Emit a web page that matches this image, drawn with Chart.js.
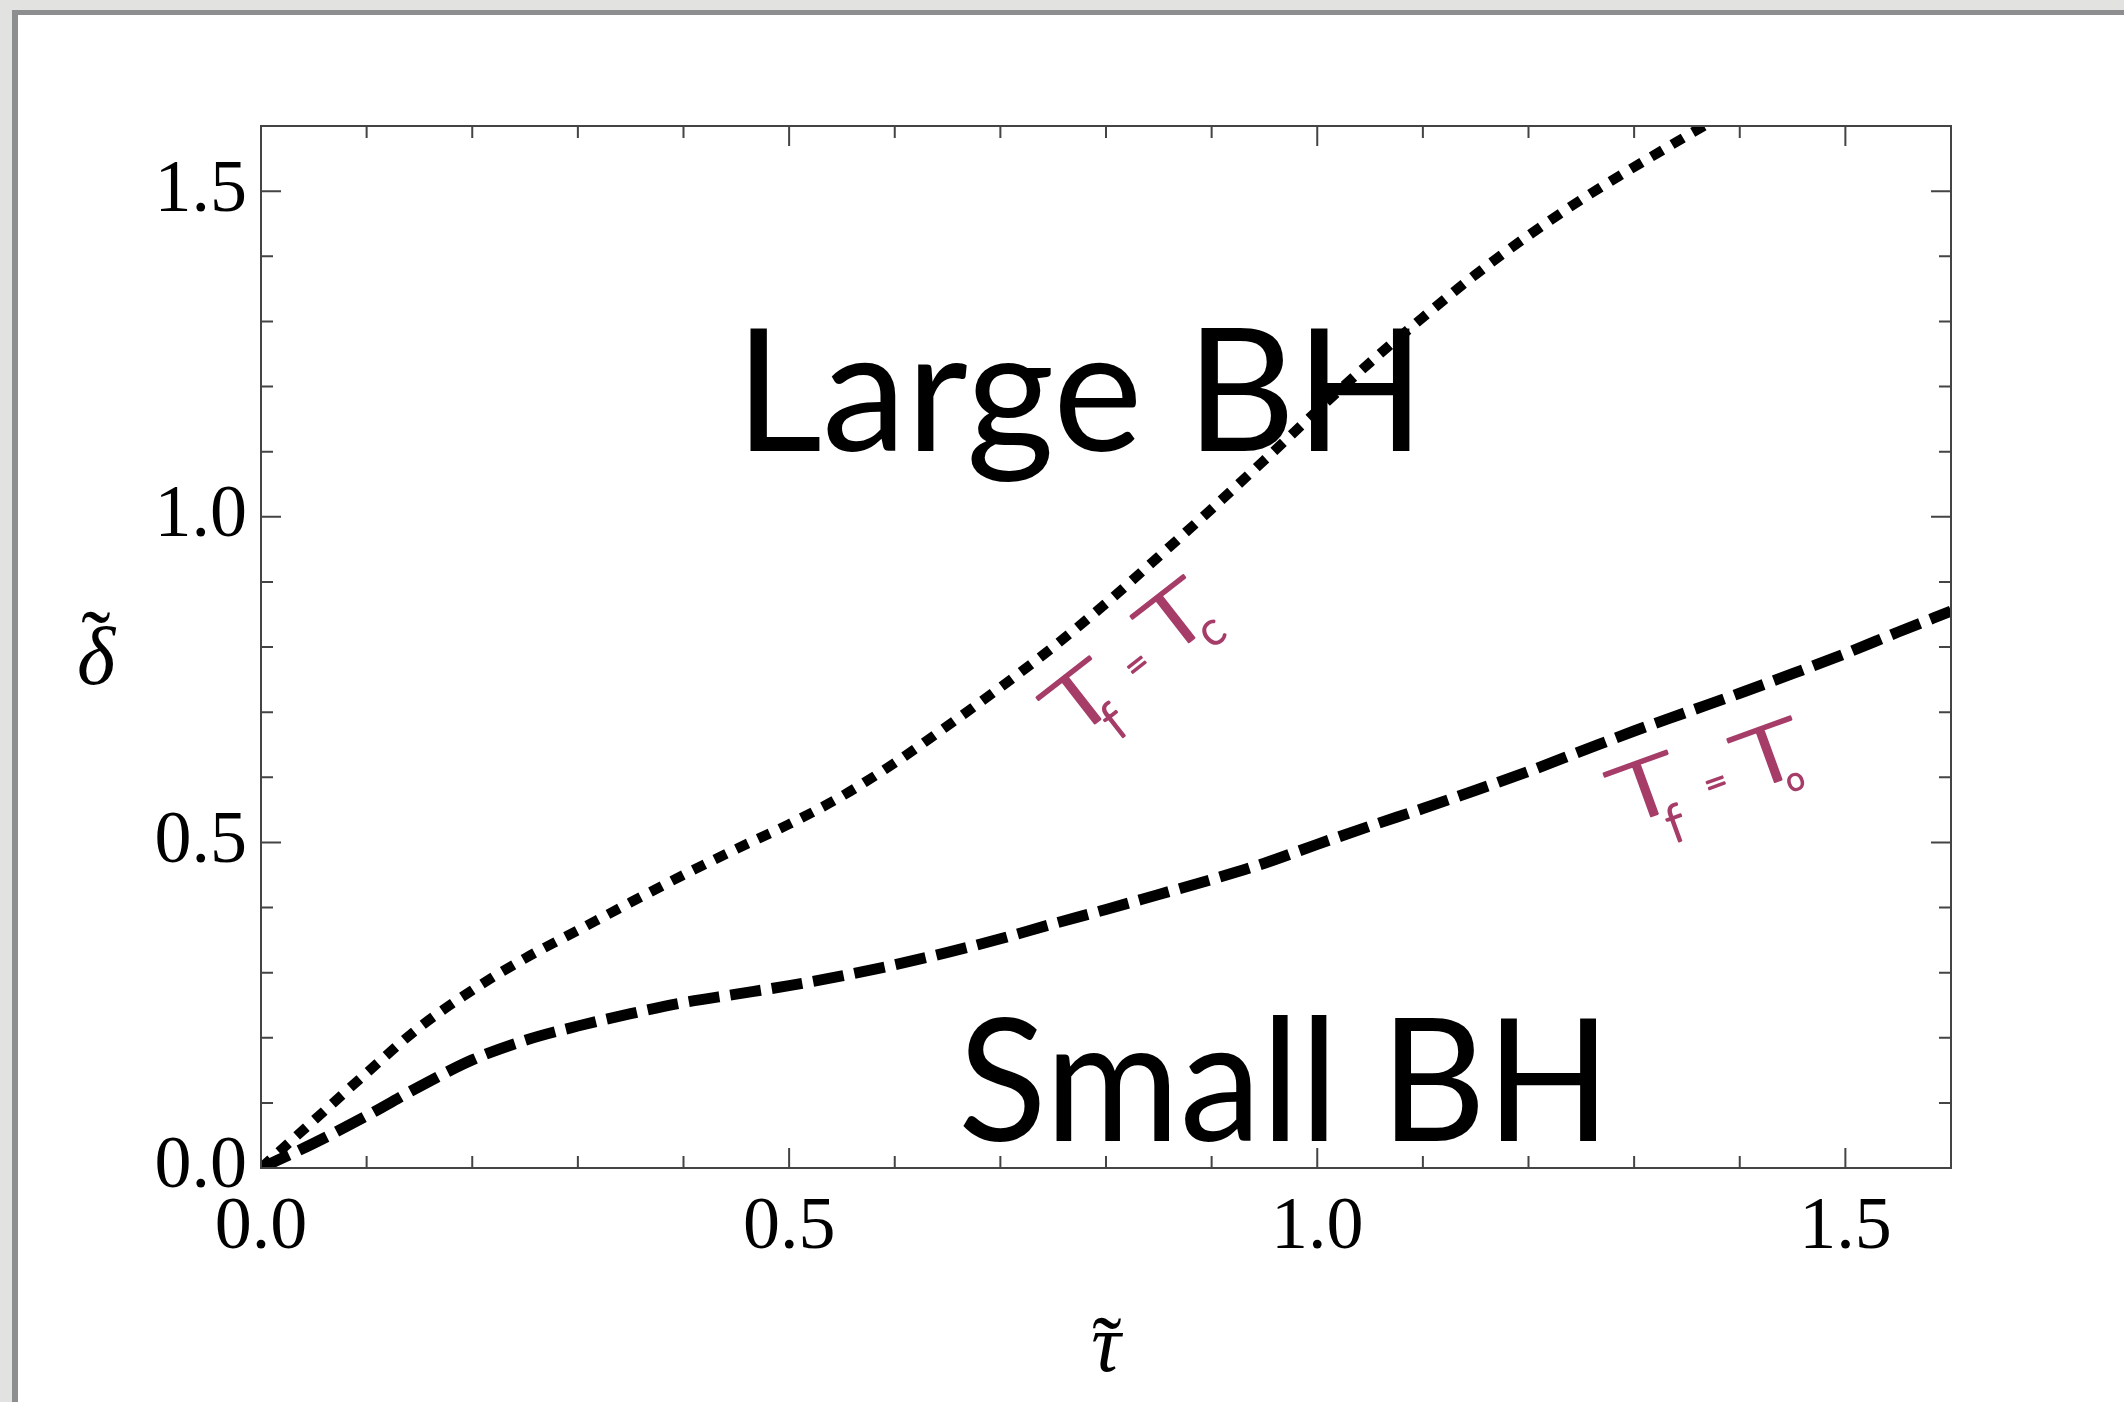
<!DOCTYPE html>
<html>
<head>
<meta charset="utf-8">
<title>Phase diagram</title>
<script src="https://cdn.jsdelivr.net/npm/chart.js@4.4.1/dist/chart.umd.min.js"></script>
<style>
    html, body { margin: 0; padding: 0; background: #e2e2e0; overflow: hidden; }
    #frame {
        position: absolute; left: 12px; top: 10px; right: 0; bottom: 0;
        background: #ffffff;
        border-left: 6px solid #8c8e90;
        border-top: 5px solid #8c8e90;
    }
    #phaseChart { position: absolute; left: 0; top: 0; }
</style>
</head>
<body>
<div id="frame"></div>
<canvas id="phaseChart" width="2124" height="1402"></canvas>

<script>
// --- Curve data: tau (x) and delta (y) ---
const tauTc   = [0, 0.05, 0.1, 0.15, 0.2, 0.25, 0.3, 0.35, 0.4, 0.45, 0.5, 0.55, 0.6, 0.65, 0.7, 0.75, 0.8, 0.85, 0.9, 0.95, 1.0, 1.05, 1.1, 1.15, 1.2, 1.25, 1.3, 1.35, 1.4];
const deltaTc = [0, 0.073, 0.146, 0.216, 0.273, 0.322, 0.365, 0.408, 0.45, 0.49, 0.528, 0.571, 0.622, 0.679, 0.738, 0.8, 0.867, 0.939, 1.012, 1.087, 1.163, 1.237, 1.306, 1.372, 1.432, 1.487, 1.537, 1.585, 1.632];

const tauT0   = [0, 0.05, 0.1, 0.15, 0.2, 0.25, 0.3, 0.35, 0.4, 0.45, 0.5, 0.55, 0.6, 0.65, 0.7, 0.75, 0.8, 0.85, 0.9, 0.95, 1.0, 1.05, 1.1, 1.15, 1.2, 1.25, 1.3, 1.35, 1.4, 1.45, 1.5, 1.55, 1.6];
const deltaT0 = [0, 0.038, 0.08, 0.125, 0.166, 0.196, 0.218, 0.237, 0.254, 0.267, 0.28, 0.295, 0.312, 0.331, 0.352, 0.375, 0.397, 0.42, 0.443, 0.468, 0.497, 0.525, 0.552, 0.58, 0.609, 0.64, 0.671, 0.7, 0.729, 0.759, 0.79, 0.823, 0.855];

// --- Axes ---
const axisMin = 0;
const axisMax = 1.6;
const tickStep = 0.1;
const labelledTicks = [0, 0.5, 1.0, 1.5];

// --- Annotations ---
const regionLarge = "Large BH";
const regionSmall = "Small BH";
const xTitle = "τ";
const yTitle = "δ";
const tildeMark = "˜";

// handwritten curve labels: T_f = T_c and T_f = T_o
// dx/dy are offsets along / across the rotated baseline, sx stretches a glyph sideways
const handTc = [
    { text: "T", dx: -6,  dy: 0,  size: 80, sx: 1.5 },
    { text: "f", dx: 33,  dy: 28, size: 52 },
    { text: "=", dx: 83,  dy: -7, size: 40 },
    { text: "T", dx: 118, dy: -6, size: 80, sx: 1.5 },
    { text: "c", dx: 163, dy: 13, size: 46 }
];
const handT0 = [
    { text: "T", dx: -12, dy: 0,  size: 80, sx: 1.5 },
    { text: "f", dx: 31,  dy: 33, size: 52 },
    { text: "=", dx: 80,  dy: 4,  size: 40 },
    { text: "T", dx: 116, dy: 10, size: 80, sx: 1.5 },
    { text: "o", dx: 158, dy: 25, size: 32 }
];

const INK = "#a63d68";
const SERIF = '"Liberation Serif", "Times New Roman", serif';

function toPoints(xs, ys) {
    return xs.map(function (x, i) { return { x: x, y: ys[i] }; });
}

function isLabelled(v) {
    return labelledTicks.some(function (t) { return Math.abs(t - v) < 1e-6; });
}

// ===================================================
// Frame + inward ticks on all four sides
// ===================================================
const frameTicks = {
    id: "frameTicks",
    afterDatasetsDraw: function (chart) {
        const ctx = chart.ctx;
        const a = chart.chartArea;
        const xs = chart.scales.x;
        const ys = chart.scales.y;

        ctx.save();
        ctx.strokeStyle = "#444";
        ctx.lineWidth = 2;
        ctx.strokeRect(a.left, a.top, a.right - a.left, a.bottom - a.top);

        ctx.beginPath();
        xs.ticks.forEach(function (t) {
            const px = xs.getPixelForValue(t.value);
            const len = isLabelled(t.value) ? 20 : 12;
            ctx.moveTo(px, a.bottom); ctx.lineTo(px, a.bottom - len);
            ctx.moveTo(px, a.top);    ctx.lineTo(px, a.top + len);
        });
        ys.ticks.forEach(function (t) {
            const py = ys.getPixelForValue(t.value);
            const len = isLabelled(t.value) ? 20 : 12;
            ctx.moveTo(a.left, py);  ctx.lineTo(a.left + len, py);
            ctx.moveTo(a.right, py); ctx.lineTo(a.right - len, py);
        });
        ctx.stroke();

        // axis titles with tilde accents
        ctx.fillStyle = "#000";
        ctx.textAlign = "center";
        ctx.textBaseline = "alphabetic";
        ctx.font = "italic 82px " + SERIF;
        ctx.fillText(yTitle, 96, 684);
        ctx.fillText(xTitle, 1106, 1371);
        ctx.font = "88px " + SERIF;
        ctx.fillText(tildeMark, 96, 672);
        ctx.fillText(tildeMark, 1107, 1378);
        ctx.restore();
    }
};

// ===================================================
// Region names and curve labels
// ===================================================
function drawHand(ctx, x, y, angle, parts) {
    ctx.save();
    ctx.translate(x, y);
    ctx.rotate(angle * Math.PI / 180);
    ctx.fillStyle = INK;
    ctx.strokeStyle = INK;
    ctx.lineWidth = 2;
    ctx.lineJoin = "round";
    ctx.textAlign = "left";
    ctx.textBaseline = "alphabetic";
    parts.forEach(function (p) {
        ctx.save();
        ctx.translate(p.dx, p.dy);
        ctx.scale(p.sx || 1, 1);
        ctx.font = "300 " + p.size + 'px Lato, "DejaVu Sans", sans-serif';
        ctx.fillText(p.text, 0, 0);
        ctx.strokeText(p.text, 0, 0);
        ctx.restore();
    });
    ctx.restore();
}

const annotations = {
    id: "annotations",
    beforeDatasetsDraw: function (chart) {
        const ctx = chart.ctx;
        ctx.save();
        ctx.fillStyle = "#000";
        ctx.textAlign = "left";
        ctx.textBaseline = "alphabetic";
        ctx.font = '170px Lato, "Noto Sans", sans-serif';
        ctx.fillText(regionLarge, 735, 451, 690);
        ctx.fillText(regionSmall, 958, 1141, 653);
        ctx.restore();

        drawHand(ctx, 1075, 739, -38, handTc);
        drawHand(ctx, 1633, 823, -20, handT0);
    }
};

// ===================================================
// Chart
// ===================================================
const ctx = document.getElementById("phaseChart").getContext("2d");

new Chart(ctx, {
    type: "scatter",
    data: {
        datasets: [
            {
                label: "Tf = Tc",
                data: toPoints(tauTc, deltaTc),
                showLine: true,
                borderColor: "#000",
                borderWidth: 10,
                borderDash: [13, 11],
                borderCapStyle: "butt",
                cubicInterpolationMode: "monotone",
                pointRadius: 0,
                pointHoverRadius: 0
            },
            {
                label: "Tf = T0",
                data: toPoints(tauT0, deltaT0),
                showLine: true,
                borderColor: "#000",
                borderWidth: 11,
                borderDash: [31, 11],
                borderCapStyle: "butt",
                cubicInterpolationMode: "monotone",
                pointRadius: 0,
                pointHoverRadius: 0
            }
        ]
    },
    options: {
        responsive: false,
        animation: false,
        devicePixelRatio: 1,
        layout: { padding: { left: 0, top: 126, right: 173, bottom: 0 } },
        plugins: {
            legend: { display: false },
            tooltip: { enabled: false }
        },
        scales: {
            x: {
                type: "linear",
                min: axisMin,
                max: axisMax,
                grid: { display: false, drawTicks: false },
                border: { display: false },
                ticks: {
                    stepSize: tickStep,
                    autoSkip: false,
                    maxRotation: 0,
                    padding: 16,
                    color: "#000",
                    font: { family: SERIF, size: 74 },
                    callback: function (v) { return isLabelled(v) ? v.toFixed(1) : ""; }
                },
                afterFit: function (scale) { scale.height = 234; }
            },
            y: {
                type: "linear",
                min: axisMin,
                max: axisMax,
                grid: { display: false, drawTicks: false },
                border: { display: false },
                ticks: {
                    stepSize: tickStep,
                    autoSkip: false,
                    padding: 14,
                    color: "#000",
                    font: { family: SERIF, size: 74 },
                    callback: function (v) { return isLabelled(v) ? v.toFixed(1) : ""; }
                },
                afterFit: function (scale) { scale.width = 261; }
            }
        }
    },
    plugins: [annotations, frameTicks]
});
</script>
</body>
</html>
